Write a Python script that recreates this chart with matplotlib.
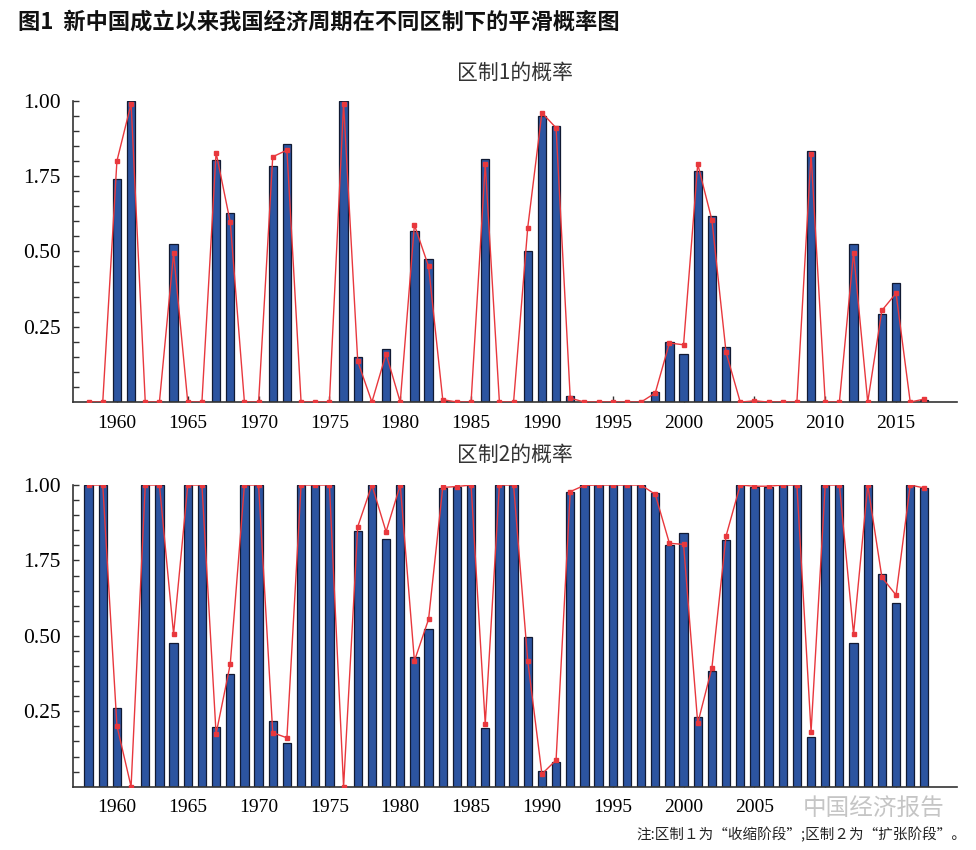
import matplotlib
matplotlib.use("Agg")
import matplotlib.pyplot as plt
import numpy as np

# Vuodet 1958-2017
years = list(range(1958, 2018))

# Region 1 (收缩阶段): bars and the red smoothed line
r1_bar = [0, 0, 0.74, 1.00, 0, 0, 0.524, 0, 0, 0.803, 0.627, 0, 0, 0.782, 0.855, 0, 0, 0, 1.00, 0.151,
          0, 0.176, 0, 0.568, 0.475, 0.005, 0, 0, 0.807, 0, 0, 0.502, 0.949, 0.917, 0.021, 0, 0, 0, 0, 0,
          0.033, 0.199, 0.159, 0.768, 0.618, 0.182, 0, 0.003, 0, 0, 0, 0.833, 0, 0, 0.525, 0, 0.292, 0.394, 0, 0.007]
r1_line = [0, 0, 0.80, 0.99, 0, 0, 0.494, 0, 0, 0.828, 0.597, 0, 0, 0.814, 0.836, 0, 0, 0, 0.99, 0.135,
           0, 0.16, 0, 0.588, 0.45, 0.008, 0, 0, 0.79, 0, 0, 0.579, 0.96, 0.91, 0.013, 0, 0, 0, 0, 0,
           0.03, 0.196, 0.19, 0.79, 0.604, 0.165, 0, 0.004, 0, 0, 0, 0.823, 0, 0, 0.496, 0, 0.304, 0.361, 0, 0.01]

# Region 2 (扩张阶段)
r2_bar = [1, 1, 0.26, 0, 1, 1, 0.477, 1, 1, 0.199, 0.372, 1, 1, 0.219, 0.145, 1, 1, 1, 0, 0.849,
          1, 0.822, 1, 0.431, 0.523, 0.989, 0.994, 1, 0.193, 1, 1, 0.497, 0.051, 0.083, 0.978, 0.999, 1, 1, 1, 1,
          0.972, 0.801, 0.84, 0.23, 0.382, 0.818, 1, 0.994, 0.995, 1, 1, 0.166, 1, 1, 0.477, 1, 0.704, 0.608, 1, 0.989]
r2_line = [1, 1, 0.202, 0, 1, 1, 0.506, 1, 1, 0.175, 0.406, 1, 1, 0.179, 0.162, 1, 1, 1, 0, 0.862,
           1, 0.845, 1, 0.417, 0.555, 0.992, 0.995, 1, 0.208, 1, 1, 0.417, 0.042, 0.088, 0.978, 0.999, 1, 1, 1, 1,
           0.969, 0.807, 0.803, 0.21, 0.394, 0.831, 1, 0.996, 0.996, 1, 1, 0.182, 1, 1, 0.506, 1, 0.694, 0.635, 1, 0.99]

ytick_vals = [0.25, 0.50, 0.75, 1.00]
ytick_labels = ['0.25', '0.50', '1.75', '1.00']   # näin alkuperäisessä kuvassa
xtick_vals = [1960, 1965, 1970, 1975, 1980, 1985, 1990, 1995, 2000, 2005, 2010, 2015]
xlabels_top = ['1960', '1965', '1970', '1975', '1980', '1985', '1990', '1995', '2000', '2005', '2010', '2015']
# alapaneelissa vesileima peittää 2010 ja 2015
xlabels_bottom = ['1960', '1965', '1970', '1975', '1980', '1985', '1990', '1995', '2000', '2005', '', '']

cjk = ['Noto Sans CJK SC', 'DejaVu Sans']
serif = 'Liberation Serif'

fig = plt.figure(figsize=(9.76, 8.5), dpi=100)
ax1 = fig.add_axes([0.0748, 0.527, 0.9057, 0.3545])
ax2 = fig.add_axes([0.0748, 0.0745, 0.9057, 0.3549])


def paneeli(ax, bars, line, otsikko, title_y, xlabels):
    ax.bar(years, bars, width=0.58, color='#2c54a0', edgecolor='#111a33', linewidth=0.9, zorder=2)
    ax.plot(years, line, color='#e8383d', linewidth=1.0, marker='s', markersize=2.6, zorder=3)
    ax.set_xlim(1956.9, 2019.3)
    ax.set_ylim(0, 1.0)
    for s in ['top', 'right']:
        ax.spines[s].set_visible(False)
    for s in ['left', 'bottom']:
        ax.spines[s].set_color('#333333')
        ax.spines[s].set_linewidth(1.2)
    ax.set_yticks(ytick_vals)
    ax.set_yticklabels(ytick_labels, fontfamily=serif, fontsize=15.5)
    ax.set_yticks(np.arange(0.05, 1.0, 0.05), minor=True)
    ax.set_xticks(xtick_vals)
    ax.set_xticklabels(xlabels, fontfamily=serif, fontsize=14)
    ax.tick_params(axis='y', which='both', direction='in', length=4, width=1, pad=9, color='#333333')
    ax.tick_params(axis='x', direction='in', length=4, width=1, pad=9, color='#333333')
    ax.text(0.5, title_y, otsikko, transform=ax.transAxes, ha='center', va='center',
            fontsize=15, family=cjk, color='#333333')


paneeli(ax1, r1_bar, r1_line, '区制1的概率', 1.093, xlabels_top)
paneeli(ax2, r2_bar, r2_line, '区制2的概率', 1.10, xlabels_bottom)

fig.text(0.018, 0.974, '图1  新中国成立以来我国经济周期在不同区制下的平滑概率图',
         ha='left', va='center', fontsize=16, fontweight='bold', family=cjk, color='#111111')

# vesileima
fig.text(0.895, 0.049, '中国经济报告', ha='center', va='center', fontsize=17,
         family=cjk, color='#bbbbbb', alpha=0.85)

fig.text(0.99, 0.018, '注:区制１为“收缩阶段”;区制２为“扩张阶段”。', ha='right', va='center',
         fontsize=10.5, family=cjk, color='#222222')

fig.savefig('out.png', dpi=100)
